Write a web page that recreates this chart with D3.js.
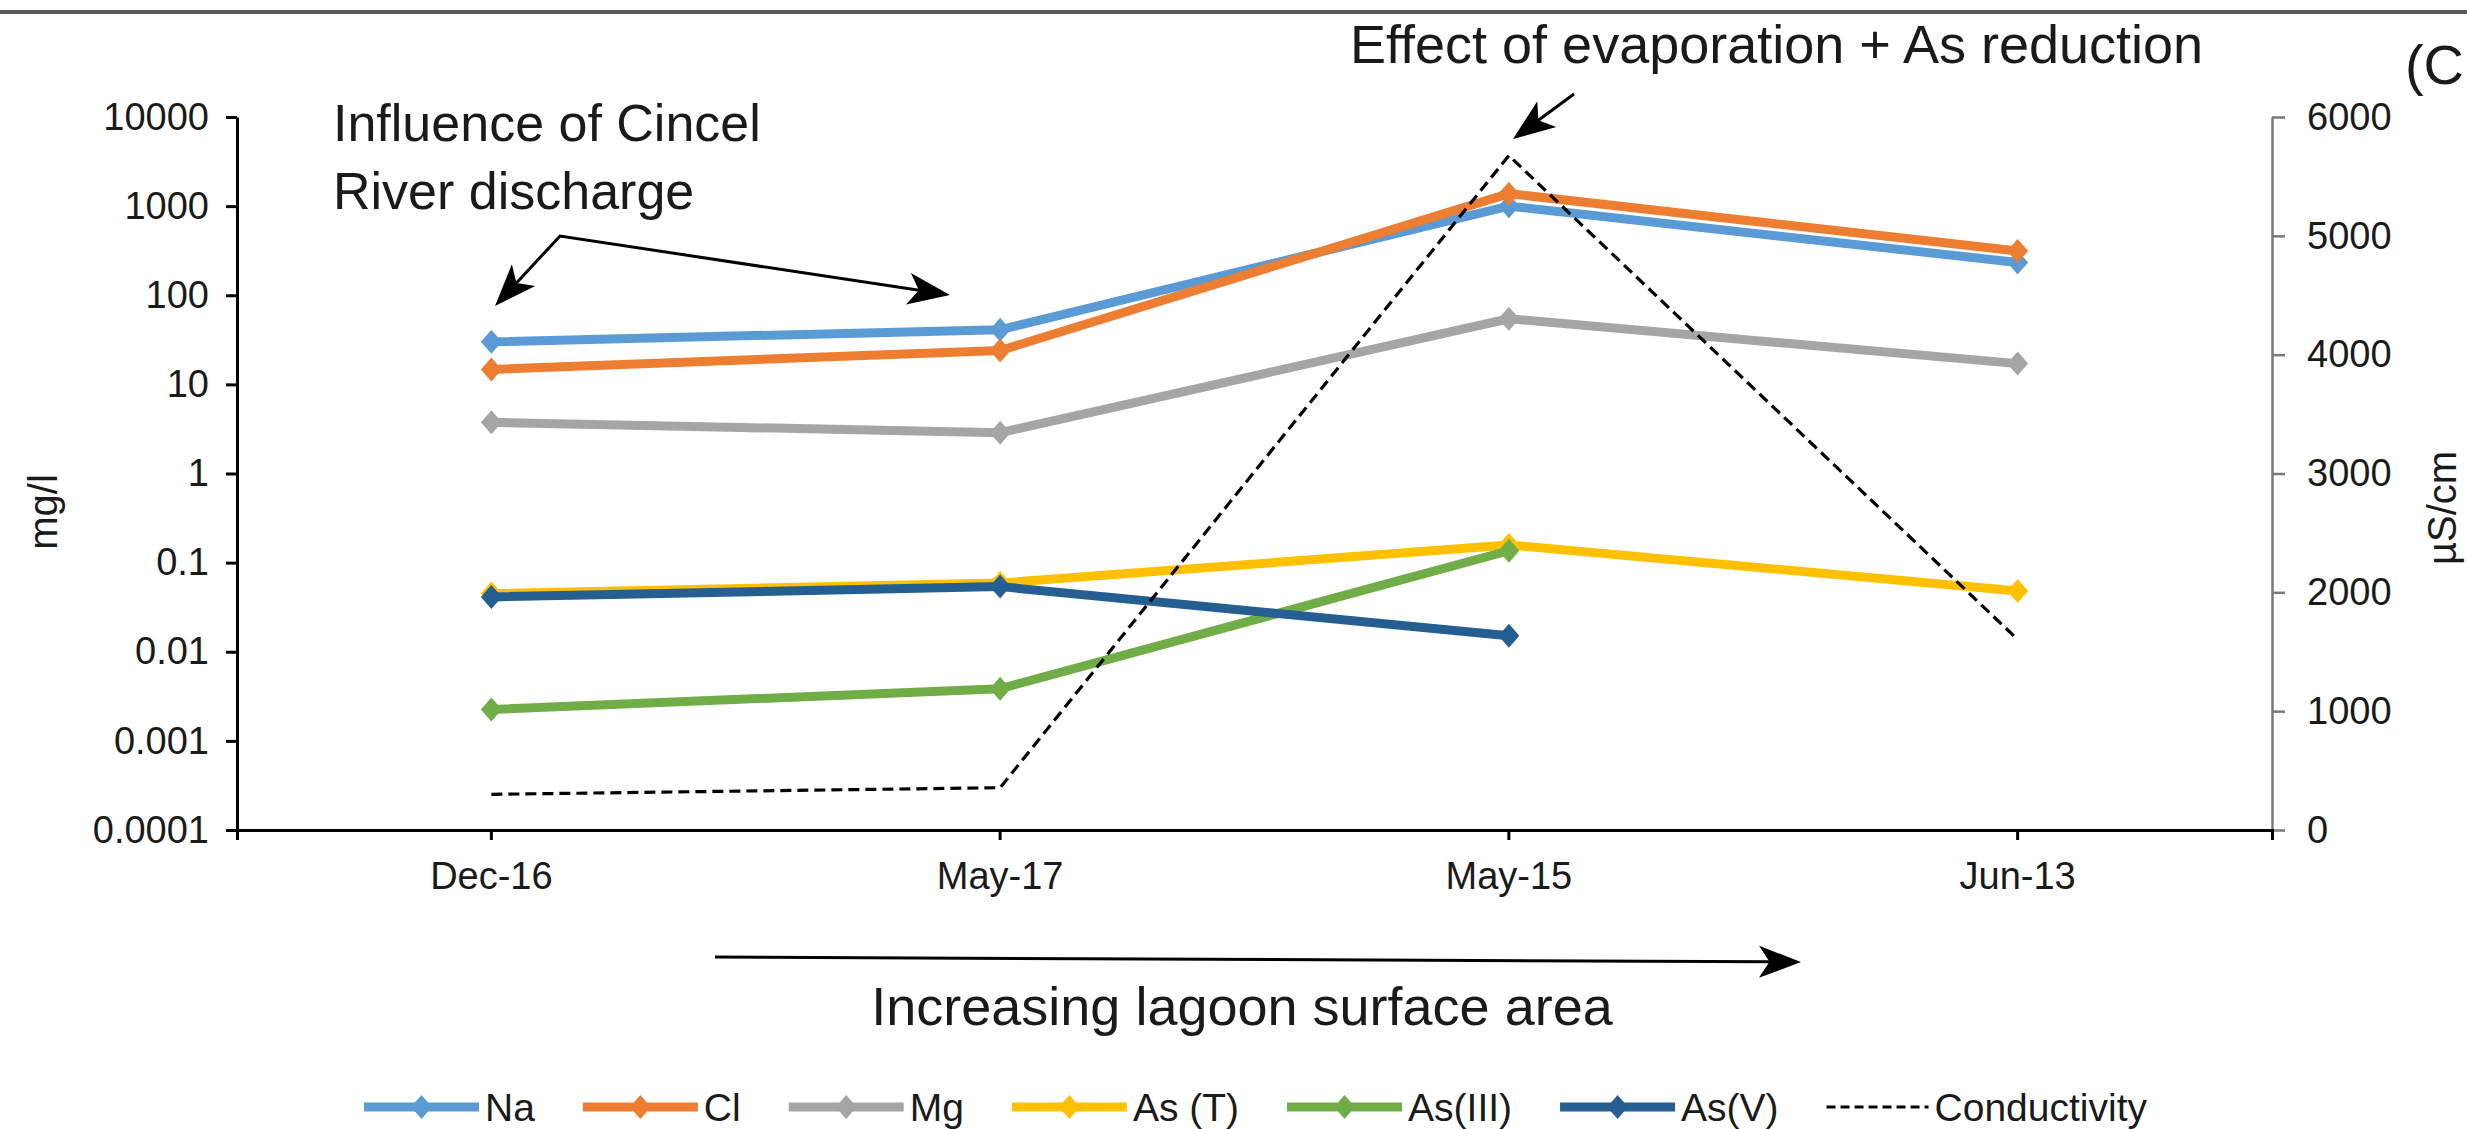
<!DOCTYPE html>
<html>
<head>
<meta charset="utf-8">
<script src="https://cdn.jsdelivr.net/npm/d3@7"></script>
<style>
body { margin: 0; background: #fff; }
text { font-family: "Liberation Sans", Arial, sans-serif; fill: #1a1a1a; }
</style>
</head>
<body>
<div id="main"></div>
<script>
// Datos
var fechas = ["Dec-16", "May-17", "May-15", "Jun-13"];
var na = [30, 41, 1000, 233];
var cl = [14.7, 24, 1380, 314];
var mg = [3.75, 2.87, 54.5, 17.1];
var asTotal = [0.045, 0.059, 0.158, 0.048];
var asIII = [0.00225, 0.00385, 0.136, null];
var asV = [0.0412, 0.0538, 0.0151, null];
var conductividad = [300, 356, 5675, 1604];

var ticksIzq = [0.0001, 0.001, 0.01, 0.1, 1, 10, 100, 1000, 10000];
var etiquetasIzq = ["0.0001", "0.001", "0.01", "0.1", "1", "10", "100", "1000", "10000"];
var ticksDer = [0, 1000, 2000, 3000, 4000, 5000, 6000];
var etiquetasDer = ["0", "1000", "2000", "3000", "4000", "5000", "6000"];

var series = [
	{ nombre: "Na", valores: na, color: "#5B9BD5" },
	{ nombre: "Cl", valores: cl, color: "#ED7D31" },
	{ nombre: "Mg", valores: mg, color: "#A5A5A5" },
	{ nombre: "As (T)", valores: asTotal, color: "#FFC000" },
	{ nombre: "As(III)", valores: asIII, color: "#70AD47" },
	{ nombre: "As(V)", valores: asV, color: "#255E91" }
];

var ancho = 2467, alto = 1129;
var svg = d3.select("#main").append("svg").attr("width", ancho).attr("height", alto);

// Línea del borde superior
svg.append("line").attr("x1", 0).attr("x2", ancho).attr("y1", 12).attr("y2", 12)
	.attr("stroke", "#5a5a5a").attr("stroke-width", 4);

// Escalas
var x = d3.scaleBand().domain(fechas).range([237, 2272]);
var cx = function(d) { return x(d) + x.bandwidth() / 2; };
var yIzq = d3.scaleLog().domain([1e-4, 1e4]).range([830, 117]);
var yDer = d3.scaleLinear().domain([0, 6000]).range([830, 117]);

// Eje derecho
var ejeDer = svg.append("g").attr("transform", "translate(2272,0)")
	.call(d3.axisRight(yDer).tickValues(ticksDer)
		.tickFormat(function(d, i) { return etiquetasDer[i]; })
		.tickSize(13).tickSizeOuter(0).tickPadding(22));
ejeDer.selectAll("path, line").attr("stroke", "#7a7a7a").attr("stroke-width", 2.5);

// Eje izquierdo
var ejeIzq = svg.append("g").attr("transform", "translate(237,0)")
	.call(d3.axisLeft(yIzq).tickValues(ticksIzq)
		.tickFormat(function(d, i) { return etiquetasIzq[i]; })
		.tickSize(11).tickSizeOuter(0).tickPadding(17));
ejeIzq.selectAll("path, line").attr("stroke", "#000").attr("stroke-width", 3);

// Eje inferior
var ejeX = svg.append("g").attr("transform", "translate(0,830)")
	.call(d3.axisBottom(x).tickSize(10).tickSizeOuter(10).tickPadding(22));
ejeX.selectAll("path, line").attr("stroke", "#000").attr("stroke-width", 3);

svg.selectAll(".tick text").attr("font-size", 38).attr("fill", "#1a1a1a")
	.attr("font-family", "'Liberation Sans', Arial, sans-serif");

// Títulos de los ejes
svg.append("text").attr("transform", "translate(57,512) rotate(-90)")
	.attr("text-anchor", "middle").attr("font-size", 40).text("mg/l");
svg.append("text").attr("transform", "translate(2456,508) rotate(-90)")
	.attr("text-anchor", "middle").attr("font-size", 40).text("µS/cm");

// Forma del diamante
var diamante = "M0,-12L10.5,0L0,12L-10.5,0Z";

// Series en escala logarítmica
var linea = d3.line()
	.defined(function(d) { return d.v != null; })
	.x(function(d) { return cx(d.f); })
	.y(function(d) { return yIzq(d.v); });

series.forEach(function(s) {
	var puntos = fechas.map(function(f, i) { return { f: f, v: s.valores[i] }; });
	svg.append("path").datum(puntos)
		.attr("d", linea)
		.attr("fill", "none")
		.attr("stroke", s.color)
		.attr("stroke-width", 9)
		.attr("stroke-linejoin", "round");
	svg.selectAll(null).data(puntos.filter(function(p) { return p.v != null; }))
		.enter().append("path")
		.attr("d", diamante)
		.attr("transform", function(p) { return "translate(" + cx(p.f) + "," + yIzq(p.v) + ")"; })
		.attr("fill", s.color);
});

// Conductividad (eje derecho)
var lineaCond = d3.line()
	.x(function(d, i) { return cx(fechas[i]); })
	.y(function(d) { return yDer(d); });
svg.append("path").datum(conductividad)
	.attr("d", lineaCond)
	.attr("fill", "none")
	.attr("stroke", "#000")
	.attr("stroke-width", 3.2)
	.attr("stroke-dasharray", "11 6");

// Flechas de anotación
function flecha(puntos, inicio, fin) {
	var largo = 42, medio = 16;
	var p = puntos.map(function(q) { return q.slice(); });
	function cabeza(a, b) {
		// a: punta, b: punto anterior
		var dx = a[0] - b[0], dy = a[1] - b[1];
		var l = Math.sqrt(dx * dx + dy * dy);
		var ux = dx / l, uy = dy / l;
		var bx = a[0] - ux * largo, by = a[1] - uy * largo;
		svg.append("path")
			.attr("d", "M" + a[0] + "," + a[1] +
				"L" + (bx - uy * medio) + "," + (by + ux * medio) +
				"L" + (a[0] - ux * largo * 0.75) + "," + (a[1] - uy * largo * 0.75) +
				"L" + (bx + uy * medio) + "," + (by - ux * medio) + "Z")
			.attr("fill", "#000");
		return [a[0] - ux * largo * 0.7, a[1] - uy * largo * 0.7];
	}
	var n = p.length;
	if (fin) p[n - 1] = cabeza(puntos[n - 1], puntos[n - 2]);
	if (inicio) p[0] = cabeza(puntos[0], puntos[1]);
	svg.append("path").attr("d", d3.line()(p))
		.attr("fill", "none").attr("stroke", "#000").attr("stroke-width", 3);
}

flecha([[495, 306], [560, 236], [950, 295]], true, true);
flecha([[1574, 94], [1513, 139]], false, true);
flecha([[715, 957], [1801, 962]], false, true);

// Textos de anotación
svg.append("text").attr("x", 333).attr("y", 141).attr("font-size", 52).text("Influence of Cincel");
svg.append("text").attr("x", 333).attr("y", 209).attr("font-size", 52).text("River discharge");
svg.append("text").attr("x", 1350).attr("y", 63).attr("font-size", 54).text("Effect of evaporation + As reduction");
svg.append("text").attr("x", 1242).attr("y", 1025).attr("text-anchor", "middle").attr("font-size", 54)
	.text("Increasing lagoon surface area");
svg.append("text").attr("x", 2464).attr("y", 84).attr("text-anchor", "end").attr("font-size", 56).text("(C");

// Leyenda
var leyenda = svg.append("g").attr("transform", "translate(0,1107)");
var xLey = 364;
series.forEach(function(s) {
	var g = leyenda.append("g").attr("transform", "translate(" + xLey + ",0)");
	g.append("line").attr("x1", 0).attr("x2", 115).attr("y1", 0).attr("y2", 0)
		.attr("stroke", s.color).attr("stroke-width", 9);
	g.append("path").attr("d", diamante).attr("transform", "translate(57.5,0)").attr("fill", s.color);
	var t = g.append("text").attr("x", 121).attr("y", 14).attr("font-size", 39).text(s.nombre);
	xLey += 121 + t.node().getComputedTextLength() + 48;
});
var gc = leyenda.append("g").attr("transform", "translate(" + xLey + ",0)");
gc.append("line").attr("x1", 0).attr("x2", 102).attr("y1", 0).attr("y2", 0)
	.attr("stroke", "#000").attr("stroke-width", 3.2).attr("stroke-dasharray", "9 5");
gc.append("text").attr("x", 108).attr("y", 14).attr("font-size", 39).text("Conductivity");
</script>
</body>
</html>
